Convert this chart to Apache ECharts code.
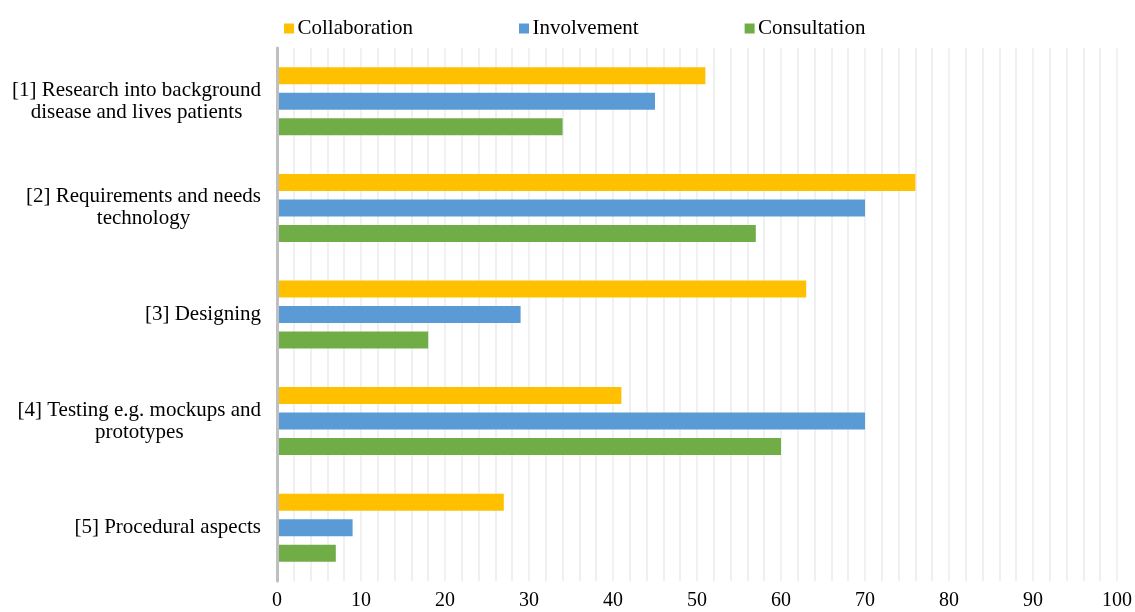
<!DOCTYPE html>
<html>
<head>
<meta charset="utf-8">
<script src="https://cdn.jsdelivr.net/npm/echarts@6/dist/echarts.min.js"></script>
<style>
  html, body { margin: 0; padding: 0; background: #fff; }
  #chart { width: 1135px; height: 612px; }
</style>
</head>
<body>
<div id="chart"></div>
<script>
// Stages of patient participation (each label may span two lines)
const categories = [
  ['[1] Research into background', 'disease and lives patients'],
  ['[2] Requirements and needs', 'technology'],
  ['[3] Designing'],
  ['[4] Testing e.g. mockups and', 'prototypes'],
  ['[5] Procedural aspects']
];

const seriesNames = ['Collaboration', 'Involvement', 'Consultation'];
const collaboration = [51, 76, 63, 41, 27];
const involvement = [45, 70, 29, 70, 9];
const consultation = [34, 57, 18, 60, 7];
const seriesColors = ['#FFC000', '#5B9BD5', '#70AD47'];

const xTicks = [0, 10, 20, 30, 40, 50, 60, 70, 80, 90, 100];

const font = '"Liberation Serif", "Times New Roman", serif';
const values = [collaboration, involvement, consultation];

const chart = echarts.init(document.getElementById('chart'), null, { renderer: 'canvas' });

chart.setOption({
  animation: false,
  backgroundColor: '#ffffff',
  textStyle: { fontFamily: font, color: '#000' },
  legend: {
    data: seriesNames,
    left: 279,
    top: 13,
    itemWidth: 10,
    itemHeight: 10,
    itemGap: 106,
    icon: 'rect',
    textStyle: { fontFamily: font, fontSize: 21, color: '#000', padding: [0, 0, 0, -1.5] }
  },
  grid: { left: 277, right: 18, top: 48, bottom: 31, containLabel: false },
  xAxis: {
    type: 'value',
    min: xTicks[0],
    max: xTicks[xTicks.length - 1],
    interval: 10,
    axisLine: { show: false },
    axisTick: { show: false },
    axisLabel: { fontFamily: font, fontSize: 20, color: '#000', margin: 10 },
    splitLine: { show: true, lineStyle: { color: '#ececec', width: 1.5 } },
    minorTick: { show: false, splitNumber: 5 },
    minorSplitLine: { show: true, lineStyle: { color: '#ececec', width: 1.5 } }
  },
  yAxis: {
    type: 'category',
    inverse: true,
    data: categories.map(c => c.join('\n')),
    axisLine: { show: true, lineStyle: { color: '#bfbfbf', width: 3 } },
    axisTick: { show: false },
    axisLabel: {
      fontFamily: font,
      fontSize: 21,
      color: '#000',
      margin: 16,
      align: 'right',
      formatter: v => v.split('\n').map(l => '{c|' + l + '}').join('\n'),
      rich: { c: { fontFamily: font, fontSize: 21, color: '#000', align: 'center', lineHeight: 22 } }
    },
    z: 5
  },
  series: seriesNames.map((name, i) => ({
    name,
    type: 'bar',
    data: values[i],
    barWidth: 17,
    barGap: '50%',
    itemStyle: { color: seriesColors[i] }
  }))
});
</script>
</body>
</html>
